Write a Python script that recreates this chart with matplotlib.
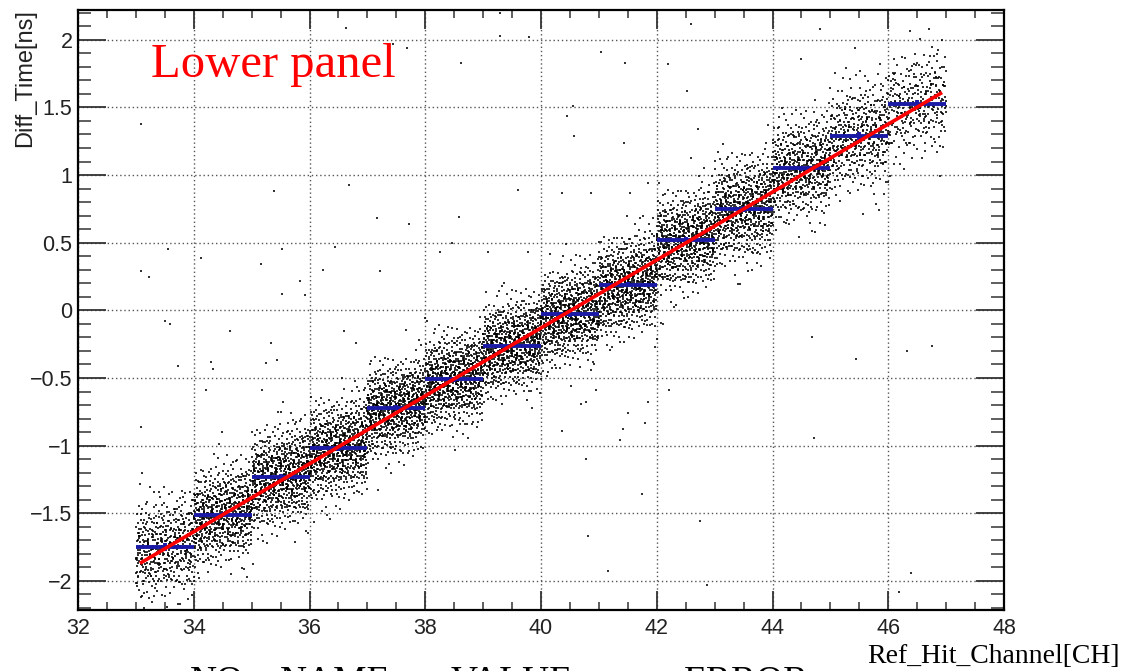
import numpy as np
import matplotlib
matplotlib.use("Agg")
import matplotlib.pyplot as plt
from matplotlib.ticker import MultipleLocator, FixedLocator

# ---------------- data ----------------
channels = [33, 34, 35, 36, 37, 38, 39, 40, 41, 42, 43, 44, 45, 46]
channel_means = [-1.75, -1.51, -1.23, -1.02, -0.72, -0.51, -0.26, -0.03,
                 0.19, 0.52, 0.75, 1.05, 1.29, 1.525]
channel_mean_err = [0.03, 0.02, 0.02, 0.02, 0.02, 0.02, 0.02, 0.02,
                    0.02, 0.02, 0.02, 0.02, 0.03, 0.03]
channel_sigmas = [0.18, 0.17, 0.17, 0.17, 0.16, 0.16, 0.16, 0.16,
                  0.17, 0.17, 0.18, 0.18, 0.19, 0.19]
channel_counts = [480, 720, 800, 800, 820, 820, 820, 820,
                  800, 760, 720, 600, 460, 320]
channel_tilt = 0.1  # visible slope of each channel's cloud

outlier_x = [36.63, 39.30, 39.29, 39.80, 37.69, 37.44, 38.62, 33.09, 35.39, 36.69,
             37.17, 37.72, 38.59, 39.60, 33.56, 33.09, 33.22, 34.13, 35.17, 35.52,
             35.83, 35.52, 35.92, 36.44, 36.23, 37.21, 38.25, 38.46, 39.08, 39.78,
             42.59, 44.82, 41.03, 41.45, 42.19, 42.52, 44.49, 40.56, 40.45, 40.57,
             41.43, 42.72, 40.37, 40.87, 41.53, 41.85, 44.69, 45.44, 46.32, 46.76,
             42.21, 44.72, 40.37, 40.69, 40.77, 41.51, 41.85, 41.80, 41.41, 41.37,
             40.51, 40.77, 41.74, 42.74, 40.82, 41.16, 42.87, 46.39, 46.19, 33.50,
             33.59, 33.73, 33.09, 34.62, 34.30, 34.33, 35.34, 35.24, 35.44, 34.22,
             34.49, 36.59, 36.81, 35.18, 35.54, 46.70, 45.43, 45.86]
outlier_y = [2.09, 2.20, 2.03, 2.02, 1.94, 1.97, 1.83, 1.38, 0.88, 0.93,
             0.68, 0.64, 0.69, 0.89, 0.45, 0.29, 0.25, 0.39, 0.34, 0.45,
             0.22, 0.12, 0.11, 0.47, 0.30, 0.29, 0.43, 0.50, 0.43, 0.43,
             2.12, 2.08, 1.91, 1.83, 1.82, 1.62, 1.86, 1.51, 1.44, 1.29,
             1.24, 1.34, 0.87, 0.87, 0.87, 0.94, -0.20, -0.36, -0.30, -0.26,
             -0.59, -0.94, -0.89, -0.69, -0.68, -0.76, -0.68, -0.83, -0.88, -0.96,
             -0.56, -1.10, -1.36, -1.56, -1.67, -1.93, -2.03, -1.94, -2.08, -0.08,
             -0.10, -0.41, -0.86, -0.15, -0.38, -0.43, -0.24, -0.39, -0.37, -0.59,
             -0.90, -0.15, -0.24, -0.59, -0.68, 2.08, 1.94, 1.82]

fit_x = [33.07, 46.93]
fit_y = [-1.87, 1.61]

x_ticks = [32, 34, 36, 38, 40, 42, 44, 46, 48]
x_tick_labels = ["32", "34", "36", "38", "40", "42", "44", "46", "48"]
y_ticks = [-2, -1.5, -1, -0.5, 0, 0.5, 1, 1.5, 2]
y_tick_labels = ["\u22122", "\u22121.5", "\u22121", "\u22120.5", "0", "0.5", "1", "1.5", "2"]

table_words = ["NO.", "NAME", "VALUE", "ERROR"]
table_word_px = [190, 280, 451, 684]

# ---------------- build the cloud from per-channel parameters ----------------
# deterministic low-discrepancy sampling of each channel's distribution
g = 1.2207440846057596
alphas = np.array([1 / g, 1 / g ** 2, 1 / g ** 3])
cloud_x, cloud_y = [], []
for ch, mu, sg, n in zip(channels, channel_means, channel_sigmas, channel_counts):
    k = np.arange(1, n + 1)[:, None]
    u = (0.5 + k * alphas[None, :] + ch * 0.137) % 1.0
    u1, u2, u3 = u[:, 0], np.clip(u[:, 1], 1e-4, 1), u[:, 2]
    z = np.sqrt(-2 * np.log(u2)) * np.cos(2 * np.pi * u3)
    cloud_x.append(ch + u1)
    cloud_y.append(mu + channel_tilt * (u1 - 0.5) + sg * z)
cloud_x = np.concatenate(cloud_x)
cloud_y = np.concatenate(cloud_y)

# ---------------- figure ----------------
W, H = 1125, 671
fig = plt.figure(figsize=(W / 100, H / 100), dpi=100)
ax = fig.add_axes([78 / W, 1 - 610 / H, (1004 - 78) / W, (610 - 10) / H])

ax.set_xlim(32, 48)
ax.set_ylim(-2.215, 2.22)

ax.grid(True, which="major", linestyle=(0, (1, 2)), color="#555555", linewidth=1.0)
ax.set_axisbelow(True)

ax.scatter(cloud_x, cloud_y, s=2.4, marker="s", c="black", linewidths=0, alpha=0.8, zorder=2)
ax.scatter(outlier_x, outlier_y, s=2.4, marker="s", c="black", linewidths=0, alpha=0.8, zorder=2)

centers = [c + 0.5 for c in channels]
ax.errorbar(centers, channel_means, xerr=0.5, yerr=channel_mean_err, fmt="none",
            ecolor="#1a1aa6", elinewidth=2.8, capsize=0, zorder=3)

ax.plot(fit_x, fit_y, color="#ff0000", linewidth=2.6, zorder=4, solid_capstyle="butt")

ax.xaxis.set_major_locator(FixedLocator(x_ticks))
ax.set_xticklabels(x_tick_labels)
ax.xaxis.set_minor_locator(MultipleLocator(0.5))
ax.yaxis.set_major_locator(FixedLocator(y_ticks))
ax.set_yticklabels(y_tick_labels)
ax.yaxis.set_minor_locator(MultipleLocator(0.1))

ax.tick_params(axis="both", which="both", direction="in", top=True, right=True,
               color="#333333", labelcolor="#222222")
ax.tick_params(axis="x", which="major", length=14, width=1.3, pad=5.5, labelsize=15.5)
ax.tick_params(axis="x", which="minor", length=6, width=1.1)
ax.tick_params(axis="y", which="major", length=20, width=1.3, pad=4, labelsize=15.5)
ax.tick_params(axis="y", which="minor", length=9.5, width=1.1)
for lab in ax.get_xticklabels() + ax.get_yticklabels():
    lab.set_family(["Liberation Sans", "DejaVu Sans"])

for sp in ax.spines.values():
    sp.set_linewidth(1.6)
    sp.set_color("black")

fig.text(151 / W, 1 - 77 / H, "Lower panel", color="#ff0000", fontsize=35,
         family=["Liberation Serif", "DejaVu Serif"], ha="left", va="baseline")

fig.text(25 / W, 1 - 9 / H, "Diff_Time[ns]", rotation=90, ha="center", va="top",
         fontsize=17, color="#222222", family=["Liberation Sans", "DejaVu Sans"])

fig.text(1120 / W, 1 - 663 / H, "Ref_Hit_Channel[CH]", ha="right", va="baseline",
         fontsize=20, color="black", family=["Liberation Serif", "DejaVu Serif"])

table_y = 1 - 692 / H
for xpos, word in zip(table_word_px, table_words):
    fig.text(xpos / W, table_y, word, ha="left", va="baseline", fontsize=27,
             color="black", family=["Liberation Serif", "DejaVu Serif"])

fig.savefig("out.png", dpi=100)
